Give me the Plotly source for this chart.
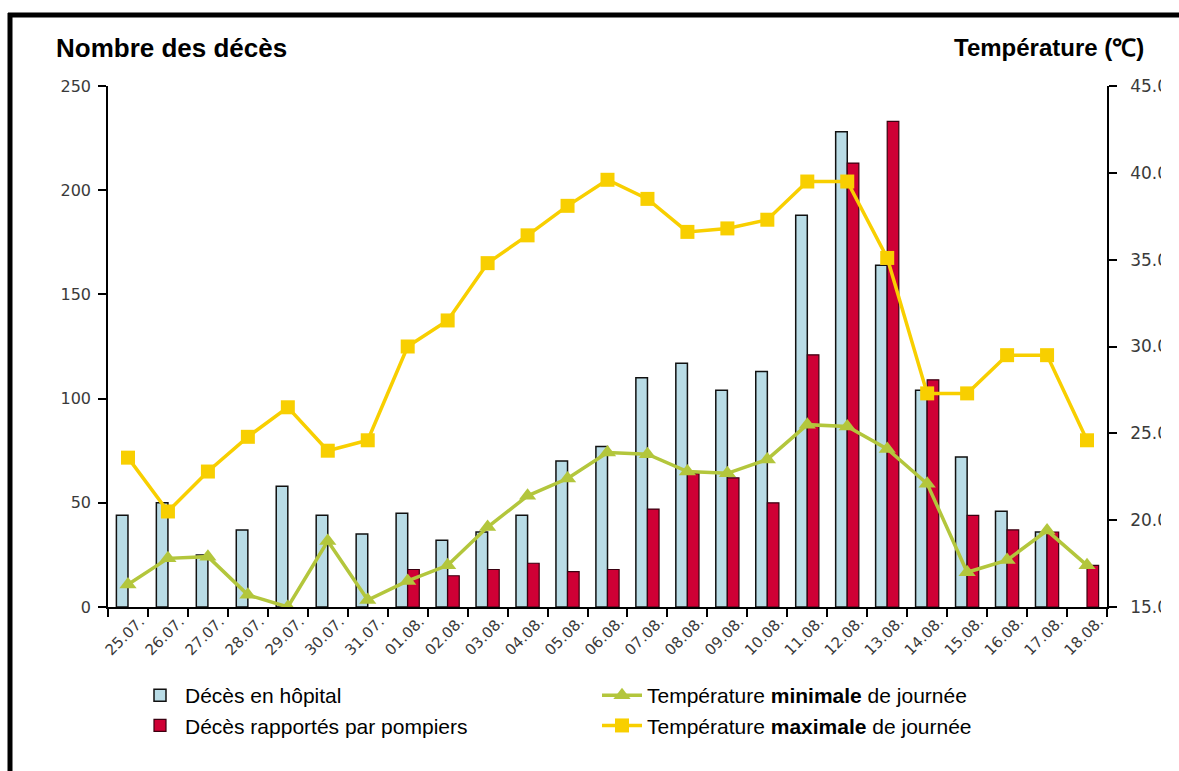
import plotly.graph_objects as go
from plotly.subplots import make_subplots

dates = ["25.07.", "26.07.", "27.07.", "28.07.", "29.07.", "30.07.", "31.07.",
         "01.08.", "02.08.", "03.08.", "04.08.", "05.08.", "06.08.", "07.08.",
         "08.08.", "09.08.", "10.08.", "11.08.", "12.08.", "13.08.", "14.08.",
         "15.08.", "16.08.", "17.08.", "18.08."]

deces_hopital = [44, 50, 25, 37, 58, 44, 35, 45, 32, 36, 44, 70, 77, 110,
                 117, 104, 113, 188, 228, 164, 104, 72, 46, 36, None]
deces_pompiers = [None, None, None, None, None, None, None, 18, 15, 18, 21, 17, 18, 47,
                  64, 62, 50, 121, 213, 233, 109, 44, 37, 36, 20]
temp_min = [16.3, 17.8, 17.9, 15.7, 15.0, 18.8, 15.4, 16.5, 17.4, 19.6, 21.4, 22.4, 23.9,
            23.8, 22.8, 22.7, 23.5, 25.5, 25.4, 24.1, 22.1, 17.0, 17.7, 19.4, 17.4]
temp_max = [23.6, 20.5, 22.8, 24.8, 26.5, 24.0, 24.6, 30.0, 31.5, 34.8, 36.4, 38.1, 39.6,
            38.5, 36.6, 36.8, 37.3, 39.5, 39.5, 35.1, 27.3, 27.3, 29.5, 29.5, 24.6]

left_ticks = [0, 50, 100, 150, 200, 250]
right_ticks = [15, 20, 25, 30, 35, 40, 45]
right_ticktext = ["15.0", "20.0", "25.0", "30.0", "35.0", "40.0", "45.0"]

W, H = 1179, 771
ML, MR, MT, MB = 108, 72, 86, 164
PW, PH = W - ML - MR, H - MT - MB

def px_x(x):
    return (x - ML) / PW

def px_y(y):
    return (H - MB - y) / PH

fig = make_subplots(specs=[[{"secondary_y": True}]])

fig.add_trace(go.Bar(
    x=dates, y=deces_hopital, name="Décès en hôpital",
    marker=dict(color="#b9dce6", line=dict(color="#111111", width=1.5)),
    legendrank=1), secondary_y=False)
fig.add_trace(go.Bar(
    x=dates, y=deces_pompiers, name="Décès rapportés par pompiers",
    marker=dict(color="#cf0035", line=dict(color="#3a0010", width=1.2)),
    legendrank=3), secondary_y=False)
fig.add_trace(go.Scatter(
    x=dates, y=temp_min, name="Température <b>minimale</b> de journée",
    mode="lines+markers",
    line=dict(color="#b3c63c", width=3.5),
    marker=dict(symbol="triangle-up", size=15, color="#b3c63c"),
    legendrank=2), secondary_y=True)
fig.add_trace(go.Scatter(
    x=dates, y=temp_max, name="Température <b>maximale</b> de journée",
    mode="lines+markers",
    line=dict(color="#f8cf00", width=3.5),
    marker=dict(symbol="square", size=14, color="#f8cf00"),
    legendrank=4), secondary_y=True)

tickfont = dict(family="DejaVu Sans", size=15, color="#3a3a3a")

fig.update_layout(
    width=W, height=H,
    margin=dict(l=ML, r=MR, t=MT, b=MB, autoexpand=False),
    paper_bgcolor="white", plot_bgcolor="white",
    barmode="group", bargap=0.42, bargroupgap=0,
    font=dict(family="Liberation Sans", color="black"),
    showlegend=True,
    legend=dict(
        orientation="h", x=px_x(135), xanchor="left", y=px_y(675), yanchor="top",
        entrywidth=407, entrywidthmode="pixels",
        font=dict(family="Liberation Sans", size=21, color="black"),
        bgcolor="rgba(0,0,0,0)", tracegroupgap=0, itemwidth=40,
    ),
    shapes=[
        dict(type="rect", xref="paper", yref="paper",
             x0=px_x(1161), x1=px_x(1200), y0=px_y(780), y1=px_y(18),
             line=dict(width=0), fillcolor="white", layer="above"),
        dict(type="line", xref="paper", yref="paper",
             x0=px_x(8), x1=px_x(1200), y0=px_y(15), y1=px_y(15),
             line=dict(color="black", width=5), layer="above"),
        dict(type="line", xref="paper", yref="paper",
             x0=px_x(10), x1=px_x(10), y0=px_y(13), y1=px_y(800),
             line=dict(color="black", width=5)),
    ],
    annotations=[
        dict(text="<b>Nombre des décès</b>", xref="paper", yref="paper",
             x=px_x(54), y=px_y(48), xanchor="left", yanchor="middle", showarrow=False,
             font=dict(family="Liberation Sans", size=26, color="black")),
        dict(text="<b>Température (℃)</b>", xref="paper", yref="paper",
             x=px_x(1146), y=px_y(48), xanchor="right", yanchor="middle", showarrow=False,
             font=dict(family="Liberation Sans", size=24, color="black")),
    ],
)

fig.update_xaxes(
    type="category", range=[-0.5, len(dates) - 0.5], domain=[0, 1],
    showline=True, linecolor="black", linewidth=1.5,
    ticks="outside", tickson="boundaries", ticklen=8, tickcolor="black", tickwidth=1.5,
    tickangle=-45, tickfont=tickfont, ticklabelshift=12, ticklabelstandoff=-2,
    showgrid=False, zeroline=False,
)
fig.update_yaxes(
    range=[0, 250], tickvals=left_ticks, showline=True, linecolor="black", linewidth=1.5,
    ticks="outside", ticklen=8, tickcolor="black", tickwidth=1.5,
    tickfont=dict(family="DejaVu Sans", size=16, color="#3a3a3a"),
    showgrid=False, zeroline=False, ticklabelstandoff=4, secondary_y=False,
)
fig.update_yaxes(
    range=[15, 45], tickvals=right_ticks, ticktext=right_ticktext,
    showline=True, linecolor="black", linewidth=1.5,
    ticks="outside", ticklen=8, tickcolor="black", tickwidth=1.5,
    tickfont=dict(family="DejaVu Sans", size=17, color="#3a3a3a"),
    showgrid=False, zeroline=False, ticklabelstandoff=10, secondary_y=True,
)

fig.write_html(
    "out.html",
    config={"displayModeBar": False},
    post_script="document.body.style.margin='0';document.body.style.overflow='hidden';",
)
